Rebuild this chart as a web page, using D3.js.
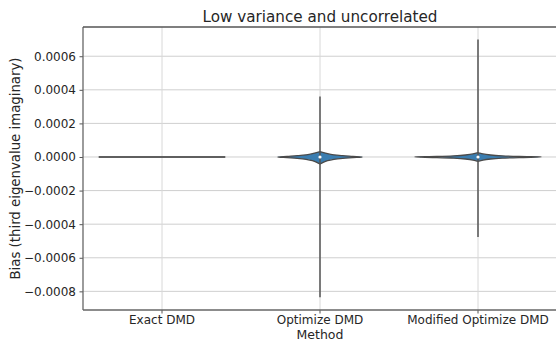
<!DOCTYPE html>
<html>
<head>
<meta charset="utf-8">
<script src="https://cdn.jsdelivr.net/npm/d3@7"></script>
<style>
  body { margin: 0; background: #fff; }
  text { font-family: "DejaVu Sans", sans-serif; fill: #262626; }
</style>
</head>
<body>
<div id="plot"></div>
<script>
const CANVAS_WIDTH  = 556;
const CANVAS_HEIGHT = 341;
const LEFT   = 83;
const RIGHT  = 557;
const TOP    = 27;
const BOTTOM = 310;

const methods = ["Exact DMD", "Optimize DMD", "Modified Optimize DMD"];
const yTicks = [0.0006, 0.0004, 0.0002, 0, -0.0002, -0.0004, -0.0006, -0.0008];

// whisker extents (min, max) per method
const whiskerMin = [0, -0.000835, -0.000476];
const whiskerMax = [0, 0.000360, 0.000700];

// violin profiles: bias values and relative density (1 = widest violin)
const exactVals = [0, 0];
const exactDens = [1.0, 1.0];
const optVals = [-0.000042, -0.000032, -0.000022, -0.000014, -0.000008, -0.000004, 0, 0.000004, 0.000008, 0.000013, 0.000020, 0.000032];
const optDens = [0.0, 0.05, 0.12, 0.22, 0.36, 0.52, 0.67, 0.52, 0.36, 0.22, 0.12, 0.0];
const modVals = [-0.000026, -0.000018, -0.000012, -0.000007, -0.000003, 0, 0.000003, 0.000007, 0.000012, 0.000018, 0.000026];
const modDens = [0.0, 0.08, 0.2, 0.38, 0.65, 1.0, 0.65, 0.38, 0.2, 0.08, 0.0];
const medians = [0, 0, 0];

var svg = d3.select("#plot")
            .append("svg")
            .attr("width", CANVAS_WIDTH)
            .attr("height", CANVAS_HEIGHT);

var xScale = d3.scaleBand()
               .domain(methods)
               .range([LEFT, RIGHT])
               .padding(0);

var yScale = d3.scaleLinear()
               .domain([-0.000911, 0.000774])
               .range([BOTTOM, TOP]);

var halfWidth = xScale.bandwidth() * 0.4;

// grid
svg.append("g")
   .selectAll("line")
   .data(yTicks)
   .enter()
   .append("line")
   .attr("x1", LEFT).attr("x2", RIGHT)
   .attr("y1", d => yScale(d)).attr("y2", d => yScale(d))
   .attr("stroke", "#cfcfcf").attr("stroke-width", 1);

svg.append("g")
   .selectAll("line")
   .data(methods)
   .enter()
   .append("line")
   .attr("x1", d => xScale(d) + xScale.bandwidth() / 2)
   .attr("x2", d => xScale(d) + xScale.bandwidth() / 2)
   .attr("y1", TOP).attr("y2", BOTTOM)
   .attr("stroke", "#d8d8d8").attr("stroke-width", 1);

// violins
var profiles = [
    { vals: exactVals, dens: exactDens },
    { vals: optVals, dens: optDens },
    { vals: modVals, dens: modDens }
];

profiles.forEach(function(p, i) {
    var cx = xScale(methods[i]) + xScale.bandwidth() / 2;
    var pts = p.vals.map((v, k) => ({ v: v, d: p.dens[k] }));
    var area = d3.area()
                 .y(d => yScale(d.v))
                 .x0(d => cx - d.d * halfWidth)
                 .x1(d => cx + d.d * halfWidth)
                 .curve(d3.curveCatmullRom);
    svg.append("path")
       .datum(pts)
       .attr("d", area)
       .attr("fill", "#3a7db0")
       .attr("stroke", "#4a4a4a")
       .attr("stroke-width", 1.3);

    if (i == 0) {
        svg.append("line")
           .attr("x1", cx - halfWidth).attr("x2", cx + halfWidth)
           .attr("y1", yScale(0)).attr("y2", yScale(0))
           .attr("stroke", "#5a5a5a").attr("stroke-width", 1.5);
        return;
    }

    // whisker line
    svg.append("line")
       .attr("x1", cx).attr("x2", cx)
       .attr("y1", yScale(whiskerMax[i])).attr("y2", yScale(whiskerMin[i]))
       .attr("stroke", "#555").attr("stroke-width", 1.5);

    // median dot
    svg.append("circle")
       .attr("cx", cx).attr("cy", yScale(medians[i]))
       .attr("r", 1.6)
       .attr("fill", "#fff");
});

// axes
var yAxis = d3.axisLeft(yScale)
              .tickValues(yTicks)
              .tickFormat(d => d3.format(".4f")(d).replace("-", "\u2212"))
              .tickSize(3.5)
              .tickPadding(3.5);

var xAxis = d3.axisBottom(xScale)
              .tickSize(3.5)
              .tickPadding(2);

var gy = svg.append("g")
            .attr("transform", "translate(" + LEFT + ",0)")
            .call(yAxis);
gy.select(".domain").remove();

var gx = svg.append("g")
            .attr("transform", "translate(0," + BOTTOM + ")")
            .call(xAxis);
gx.select(".domain").remove();

[gx, gy].forEach(function(g) {
    g.selectAll(".tick line").attr("stroke", "#555").attr("stroke-width", 1);
    g.selectAll(".tick text")
     .attr("font-size", 12)
     .style("font-family", "DejaVu Sans")
     .attr("fill", "#262626");
});

// frame
svg.append("line")
   .attr("x1", LEFT).attr("x2", LEFT)
   .attr("y1", TOP).attr("y2", BOTTOM)
   .attr("stroke", "#666").attr("stroke-width", 1.3);
svg.append("line")
   .attr("x1", LEFT).attr("x2", RIGHT)
   .attr("y1", BOTTOM).attr("y2", BOTTOM)
   .attr("stroke", "#666").attr("stroke-width", 1.3);
svg.append("line")
   .attr("x1", LEFT).attr("x2", RIGHT)
   .attr("y1", TOP).attr("y2", TOP)
   .attr("stroke", "#555").attr("stroke-width", 1.3);

// labels
svg.append("text")
   .attr("x", (LEFT + RIGHT) / 2)
   .attr("y", 22)
   .attr("text-anchor", "middle")
   .attr("font-size", 15.2)
   .text("Low variance and uncorrelated");

svg.append("text")
   .attr("x", (LEFT + RIGHT) / 2)
   .attr("y", 339)
   .attr("text-anchor", "middle")
   .attr("font-size", 12.5)
   .text("Method");

svg.append("text")
   .attr("transform", "translate(20," + ((TOP + BOTTOM) / 2) + ") rotate(-90)")
   .attr("text-anchor", "middle")
   .attr("font-size", 13.3)
   .text("Bias (third eigenvalue  imaginary)");
</script>
</body>
</html>
